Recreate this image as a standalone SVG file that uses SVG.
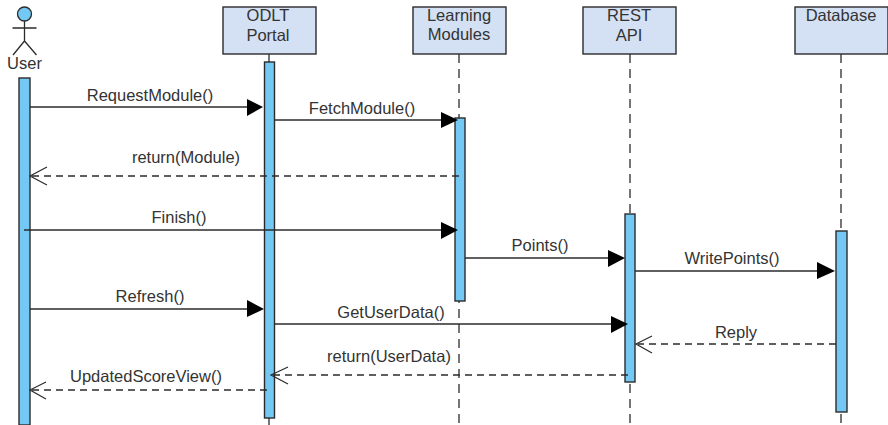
<svg xmlns="http://www.w3.org/2000/svg" width="888" height="425" viewBox="0 0 888 425">
<style>
text{font-family:"Liberation Sans",Arial,sans-serif;font-size:16.500px;fill:#333;text-anchor:middle}
.box{fill:#d4e0f3;stroke:#2b2b2b;stroke-width:1.4}
.act{fill:#74c9f4;stroke:#2b2b2b;stroke-width:1.4}
.life{fill:none;stroke:#2b2b2b;stroke-width:1.3;stroke-dasharray:9 6}
.msg{fill:none;stroke:#2b2b2b;stroke-width:1.3}
.ret{fill:none;stroke:#2b2b2b;stroke-width:1.3;stroke-dasharray:7 5}
.open{fill:none;stroke:#2b2b2b;stroke-width:1.2}
.head{fill:#000}
</style>
<rect width="888" height="425" fill="#fff"/>
<g id="lifelines">
<path class="life" d="M269 54V62M269 418V425M459 54V425M630 54V425M841 54V425"/>
</g>
<g id="user">
<circle cx="24.500" cy="14" r="7" fill="#74c9f4" stroke="#2b2b2b" stroke-width="1.300"/>
<path class="msg" d="M24.500 21V41M12.500 28H36.500M24.500 41L13 55M24.500 41L36.500 55"/>
<text x="24.500" y="69">User</text>
<rect class="act" x="19" y="78" width="11" height="347"/>
</g>
<g id="portal">
<rect class="box" x="223" y="7" width="93" height="47"/>
<text x="268" y="21">ODLT</text>
<text x="268" y="41">Portal</text>
<rect class="act" x="264.500" y="62" width="10" height="356"/>
</g>
<g id="modules">
<rect class="box" x="413" y="7" width="93" height="47"/>
<text x="459" y="21">Learning</text>
<text x="459" y="40">Modules</text>
<rect class="act" x="455" y="118" width="10" height="183"/>
</g>
<g id="api">
<rect class="box" x="583" y="7" width="93" height="47"/>
<text x="629" y="21">REST</text>
<text x="629" y="41">API</text>
<rect class="act" x="625" y="214" width="10" height="168"/>
</g>
<g id="database">
<rect class="box" x="795" y="7" width="93" height="47"/>
<text x="841" y="21">Database</text>
<rect class="act" x="836" y="231" width="11" height="181"/>
</g>
<g id="connectors">
<path class="msg" d="M30 107H250"/><path class="head" d="M247 99L263 107L247 116Z"/>
<path class="msg" d="M275 120H444"/><path class="head" d="M441 112L458 120L441 128Z"/>
<path class="ret" d="M459 176H32"/><path class="open" d="M47 167L30 176L47 185"/>
<path class="msg" d="M24 230H444"/><path class="head" d="M441 222L458 230L441 239Z"/>
<path class="msg" d="M465 258H610"/><path class="head" d="M608 250L625 258L608 267Z"/>
<path class="msg" d="M635 271H820"/><path class="head" d="M817 262L835 271L817 279Z"/>
<path class="msg" d="M30 309H250"/><path class="head" d="M247 300L264 309L247 317Z"/>
<path class="msg" d="M275 324H612"/><path class="head" d="M611 316L628 324L611 333Z"/>
<path class="ret" d="M836 344H638"/><path class="open" d="M652 336L636 344L652 353"/>
<path class="ret" d="M628 375H273"/><path class="open" d="M288 367L271 375L288 384"/>
<path class="ret" d="M267 390H32"/><path class="open" d="M46 382L30 390L46 399"/>
</g>
<g id="labels">
<text x="150" y="101">RequestModule()</text>
<text x="362" y="114">FetchModule()</text>
<text x="186" y="163">return(Module)</text>
<text x="179" y="223">Finish()</text>
<text x="540" y="251">Points()</text>
<text x="732" y="264">WritePoints()</text>
<text x="150" y="302">Refresh()</text>
<text x="391" y="318">GetUserData()</text>
<text x="736" y="338">Reply</text>
<text x="389" y="362">return(UserData)</text>
<text x="146" y="382">UpdatedScoreView()</text>
</g>
</svg>
